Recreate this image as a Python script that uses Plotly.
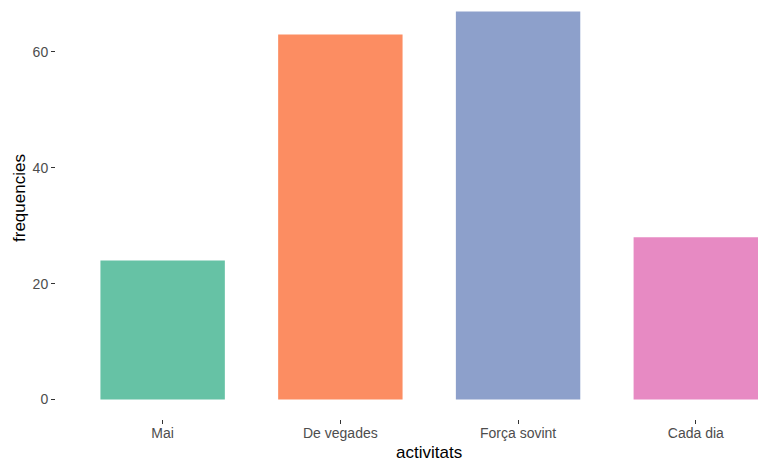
import plotly.graph_objects as go

categories = ["Mai", "De vegades", "Força sovint", "Cada dia"]
values = [24, 63, 67, 28]
colors = ["#66C2A5", "#FC8D62", "#8DA0CB", "#E78AC3"]
y_ticks = [0, 20, 40, 60]

fig = go.Figure(go.Bar(
    x=list(range(len(categories))), y=values,
    marker=dict(color=colors, line=dict(width=0)),
    width=0.7,
))

L, B, W, H = 56, 44, 758, 463
pw, ph = W - L, H - B

fig.update_layout(
    width=W, height=H,
    margin=dict(l=L, r=0, t=0, b=B, autoexpand=False),
    paper_bgcolor="white", plot_bgcolor="white",
    showlegend=False,
    font=dict(family="Liberation Sans, Arial, sans-serif"),
    annotations=[
        dict(text="activitats", xref="paper", yref="paper",
             x=(429 - L) / pw, y=-(453 - ph) / ph, xanchor="center", yanchor="middle",
             showarrow=False, font=dict(size=17, color="black")),
        dict(text="frequencies", xref="paper", yref="paper", textangle=-90,
             x=(19 - L) / pw, y=(ph - 198) / ph, xanchor="center", yanchor="middle",
             showarrow=False, font=dict(size=17, color="black")),
    ],
)
fig.update_xaxes(
    range=[-0.6, 3.35], automargin=False,
    tickvals=list(range(len(categories))), ticktext=categories,
    ticks="outside", ticklen=4, tickwidth=1, tickcolor="#333333",
    tickfont=dict(size=14, color="#4D4D4D"), ticklabelstandoff=-3,
    showgrid=False, zeroline=False, showline=False,
)
fig.update_yaxes(
    range=[-3.35, 68.97], automargin=False,
    tickvals=y_ticks,
    ticks="outside", ticklen=4, tickwidth=1, tickcolor="#333333",
    tickfont=dict(size=14, color="#4D4D4D"),
    showgrid=False, zeroline=False, showline=False,
)

fig.write_html(
    "out.html",
    config={"displayModeBar": False},
    post_script="document.body.style.margin='0px';document.body.style.overflow='hidden';",
)
